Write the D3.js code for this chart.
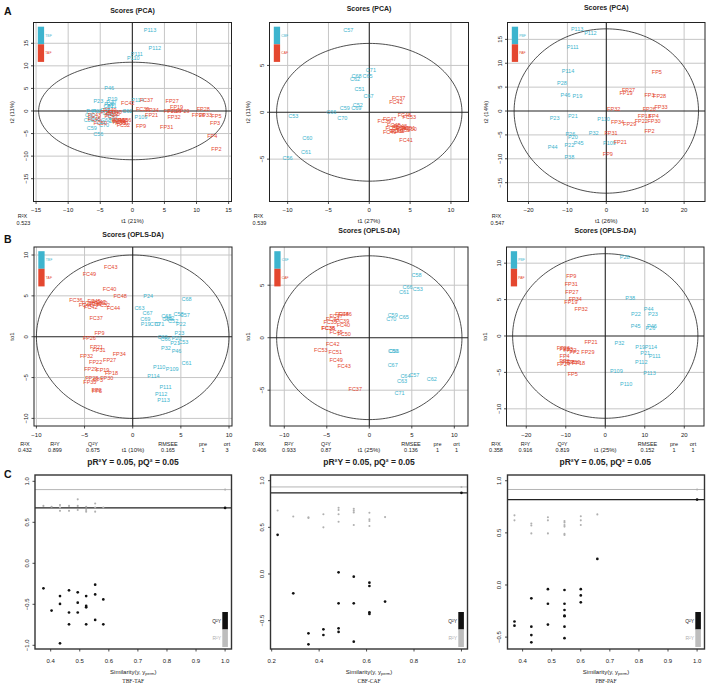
<!DOCTYPE html>
<html><head><meta charset="utf-8">
<script src="https://cdn.jsdelivr.net/npm/d3@7"></script>
<style>body{margin:0;background:#fff}svg{display:block}</style>
</head><body><svg id="c" width="708" height="686"></svg>
<script>
// ---------------- DATA ----------------
const groupNames = [["TBF","TAF"],["CBF","CAF"],["PBF","PAF"]];
const pairLabels = ["TBF-TAF","CBF-CAF","PBF-PAF"];

// PCA scores [label, t1, t2]
const pcaTBF = [["P113",2.75,18.0],["P112",3.5,14.0],["P111",0.7,12.6],["P110",0.15,11.8],["P46",-3.6,5.0],["P23",-5.3,2.3],["P19",-3.1,2.6],["P20",-3.3,2.0],["P28",-3.6,1.5],["P21",-3.2,1.0],["P114",0.8,2.4],["C62",-0.8,0.0],["P109",1.35,-1.3],["C59",-6.3,-3.8],["C56",-5.3,-5.0],["P44",-6.4,0.1],["P38",-5.5,0.0],["C60",-6.6,-0.9],["C66",-5.8,-1.85],["C53",-6.8,-2.0],["C70",-4.4,-3.1],["C61",-5.0,-2.4],["C57",-3.4,-0.6],["C68",-4.2,0.3],["C65",-3.9,-0.5],["C67",-3.0,-1.3],["C51",-3.7,1.2],["C63",-4.1,-2.0],["C69",-3.0,-2.3]];
const pcaTAF = [["FC42",-0.7,1.8],["FC37",2.2,2.4],["FC39",1.6,0.5],["FP34",3.1,0.2],["FP27",6.2,2.2],["FP19",6.9,0.8],["FP28",11.05,0.4],["FP22",5.9,0.0],["FP18",6.6,-0.1],["FP29",7.9,-0.1],["FP32",6.5,-1.3],["FP26",10.3,-0.9],["FP33",11.4,-0.8],["FP5",13.1,-1.1],["FP21",3.0,-1.0],["FP3",12.9,-2.6],["FP9",1.35,-3.25],["FP31",5.35,-3.5],["FP4",12.45,-5.6],["FP2",13.1,-8.4],["FC43",-5.9,-0.9],["FC45",-5.9,-1.8],["FC50",-5.0,-2.6],["FC49",-3.5,0.3],["FC35",-3.0,-0.7],["FC47",-3.3,-1.2],["FC40",-2.7,-0.3],["FC46",-2.2,-2.0],["FC48",-1.8,-1.9],["FC44",-2.0,-2.4],["FC36",-1.2,-2.0],["FC53",-2.1,-2.2],["FC51",-1.6,-2.7],["FC52",-1.4,-3.1],["FC41",-3.9,-0.3]];
const pcaCBF = [["C57",-2.57,8.8],["C71",0.2,4.5],["C68",-1.55,3.9],["C65",-0.2,3.9],["C62",-1.75,3.5],["C51",-1.2,2.45],["C67",-0.1,1.75],["C52",-1.4,0.75],["C59",-3.0,0.43],["C69",-1.6,0.43],["C66",-4.65,0.07],["C53",-9.3,-0.36],["C70",-3.3,-0.57],["C60",-7.6,-2.74],["C61",-7.75,-4.27],["C56",-10.0,-4.84]];
const pcaCAF = [["FC37",3.6,1.57],["FC42",3.27,1.14],["FC48",4.3,-0.28],["FC53",4.9,-0.46],["FC47",2.5,-0.71],["FC39",1.84,-0.89],["FC45",3.0,-1.4],["FC36",2.8,-1.65],["FC44",3.6,-1.6],["FC46",4.1,-1.7],["FC51",4.8,-1.65],["FC50",5.0,-1.8],["FC35",3.5,-1.95],["FC52",4.2,-1.85],["FC49",2.5,-2.1],["FC40",3.3,-2.05],["FC43",3.8,-1.5],["FC41",4.5,-2.95]];
const pcaPBF = [["P113",-7.5,17.2],["P112",-4.1,16.3],["P111",-8.65,13.3],["P114",-9.85,8.3],["P28",-11.4,5.8],["P46",-10.5,3.35],["P19",-7.45,3.1],["P23",-13.3,-1.4],["P21",-8.6,-1.0],["P110",-0.7,-1.7],["P26",-9.25,-4.9],["P20",-8.6,-5.5],["P32",-3.25,-4.5],["P22",-9.5,-7.1],["P45",-7.1,-6.6],["P44",-13.8,-7.6],["P38",-9.5,-9.6],["P109",0.8,-6.6]];
const pcaPAF = [["FP5",13.0,8.2],["FP27",5.7,4.4],["FP19",5.05,3.7],["FP3",11.1,3.35],["FP28",13.7,3.2],["FP32",1.9,0.35],["FP26",11.05,0.35],["FP33",14.05,0.9],["FP18",9.8,-1.05],["FP4",12.2,-1.0],["FP34",2.9,-2.3],["FP29",6.0,-2.7],["FP22",9.0,-2.1],["FP30",12.25,-2.1],["FP31",1.2,-4.5],["FP2",11.1,-4.1],["FP21",3.6,-6.5],["FP9",0.4,-8.9]];

// OPLS-DA scores [label, t1, to1]
const oplsTBF = [["P24",1.6,5.0],["C68",5.6,4.6],["C63",0.7,3.55],["C67",1.55,2.95],["C65",3.5,2.55],["C62",3.8,2.35],["C59",3.6,2.15],["C58",4.75,2.8],["C57",5.4,2.65],["C69",1.3,2.15],["P19",1.35,1.6],["C70",2.3,1.6],["C71",2.75,1.55],["C52",4.2,1.9],["P22",5.0,1.6],["P23",4.85,0.5],["P20",4.55,-0.1],["C53",5.25,-0.6],["C66",3.4,-0.3],["C60",3.1,-0.05],["P21",4.4,-0.8],["P32",3.45,-1.35],["P46",4.55,-1.75],["C61",5.6,-3.2],["P110",2.75,-3.75],["P109",4.1,-3.95],["P114",2.15,-4.8],["P111",3.4,-6.2],["P112",2.95,-7.0],["P113",3.2,-7.7]];
const oplsTAF = [["FC43",-2.28,8.5],["FC49",-4.5,7.7],["FC40",-2.4,5.85],["FC48",-1.3,4.95],["FC36",-5.9,4.45],["FC45",-4.0,4.35],["FC47",-3.5,4.25],["FC35",-4.6,4.1],["FC46",-3.9,3.95],["FC50",-3.3,4.15],["FC41",-4.9,3.85],["FC52",-3.05,3.9],["FC42",-4.35,3.6],["FC44",-2.0,3.5],["FC37",-3.8,2.25],["FP9",-3.45,0.5],["FP26",-4.5,-0.1],["FP21",-3.75,-1.2],["FP31",-3.5,-1.6],["FP34",-1.4,-2.1],["FP32",-4.8,-2.4],["FP27",-2.4,-2.9],["FP22",-3.85,-3.1],["FP29",-4.35,-3.9],["FP19",-3.1,-4.1],["FP18",-2.2,-4.5],["FP30",-2.7,-5.1],["FP28",-4.25,-5.0],["FP3",-3.6,-5.3],["FP33",-4.45,-5.6],["FP2",-3.75,-6.5],["FP5",-3.7,-6.6]];
const oplsCBF = [["C58",5.55,6.0],["C66",4.5,4.85],["C53",5.7,4.6],["C61",4.1,4.4],["C59",2.75,2.2],["C70",2.6,1.75],["C65",4.05,2.0],["C60",2.8,-1.25],["C56",2.9,-1.25],["C67",2.75,-2.6],["C64",4.25,-3.65],["C57",5.3,-3.55],["C63",3.85,-4.1],["C62",7.35,-3.95],["C71",3.55,-5.3]];
const oplsCAF = [["FC48",-3.2,2.3],["FC46",-2.85,2.25],["FC47",-3.9,2.05],["FC44",-4.3,1.8],["FC35",-4.6,1.5],["FC39",-3.15,1.6],["FC40",-3.05,1.2],["FC36",-4.8,0.95],["FC38",-4.85,0.9],["FC45",-3.9,0.5],["FC50",-2.95,0.4],["FC42",-4.3,-0.6],["FC53",-5.7,-1.2],["FC51",-4.0,-1.35],["FC49",-3.9,-2.1],["FC43",-2.95,-2.65],["FC37",-1.65,-4.9]];
const oplsPBF = [["P28",4.9,10.9],["P38",6.3,5.25],["P44",11.0,3.7],["P22",7.75,3.0],["P23",12.05,3.0],["P45",7.7,1.4],["P46",11.8,1.35],["P26",11.4,1.05],["P32",3.6,-0.9],["P19",8.85,-1.45],["P114",11.55,-1.45],["P21",10.1,-2.4],["P111",12.5,-2.75],["P112",9.1,-3.6],["P109",2.8,-4.85],["P113",11.2,-5.15],["P110",5.3,-6.6]];
const oplsPAF = [["FP9",-8.6,8.25],["FP31",-8.6,7.1],["FP27",-8.45,6.1],["FP34",-7.6,5.1],["FP19",-8.7,4.7],["FP32",-6.1,3.7],["FP21",-3.6,-0.8],["FP26",-10.6,-1.7],["FP33",-9.9,-1.75],["FP22",-8.9,-1.95],["FP2",-7.75,-2.15],["FP29",-4.4,-2.2],["FP4",-10.3,-2.7],["FP3",-10.3,-3.5],["FP28",-9.4,-3.55],["FP30",-8.0,-3.6],["FP18",-6.75,-3.75],["FP24",-10.55,-3.8],["FP5",-8.25,-5.2]];

// Hotelling ellipse half-axes [t1, t2/to1]
const pcaEllipse = [[14.6,10.8],[11.35,7.35],[23.7,17.2]];
const oplsEllipse = [[10.0,10.0],[10.9,7.8],[23.45,11.3]];

// axis ticks
const pcaXTicks = [[-15,-10,-5,0,5,10,15],[-10,-5,0,5,10],[-20,-10,0,10,20]];
const pcaYTicks = [[-15,-10,-5,0,5,10,15],[-5,0,5],[-15,-10,-5,0,5,10,15]];
const oplsXTicks = [[-10,-5,0,5,10],[-10,-5,0,5,10],[-20,-10,0,10,20]];
const oplsYTicks = [[-10,-5,0,5,10],[-5,0,5],[-10,-5,0,5,10]];
const permXTicks = [[0.4,0.5,0.6,0.7,0.8,0.9,1.0],[0.2,0.4,0.6,0.8,1.0],[0.4,0.5,0.6,0.7,0.8,0.9,1.0]];
const permYTicks = [[-1,-0.5,0,0.5,1],[-0.5,0,0.5,1],[-0.5,0,0.5,1]];

// model statistics
const pcaT1 = ["t1 (21%)","t1 (27%)","t1 (26%)"];
const pcaT2 = ["t2 (11%)","t2 (11%)","t2 (14%)"];
const pcaR2X = ["0.523","0.539","0.547"];
const oplsT1 = ["t1 (10%)","t1 (25%)","t1 (25%)"];
const oplsR2X = ["0.432","0.406","0.358"];
const oplsR2Y = ["0.899","0.933","0.916"];
const oplsQ2Y = ["0.675","0.87","0.819"];
const oplsRMSEE = ["0.165","0.136","0.152"];
const oplsPre = ["1","1","1"];
const oplsOrt = ["3","1","1"];
const pValues = ["pR²Y = 0.05, pQ² = 0.05","pR²Y = 0.05, pQ² = 0.05","pR²Y = 0.05, pQ² = 0.05"];

// permutation tests [similarity, value]
const permTBF_R2 = [[0.375,0.70],[0.403,0.69],[0.432,0.71],[0.432,0.68],[0.432,0.64],[0.463,0.70],[0.463,0.64],[0.493,0.78],[0.493,0.70],[0.493,0.65],[0.522,0.69],[0.522,0.65],[0.522,0.63],[0.553,0.73],[0.553,0.68],[0.553,0.63],[0.581,0.68],[1.0,0.899]];
const permTBF_Q2 = [[0.375,-0.305],[0.403,-0.577],[0.432,-0.40],[0.432,-0.495],[0.432,-0.976],[0.463,-0.33],[0.463,-0.60],[0.463,-0.744],[0.493,-0.354],[0.493,-0.48],[0.493,-0.60],[0.522,-0.40],[0.522,-0.52],[0.522,-0.537],[0.522,-0.744],[0.553,-0.26],[0.553,-0.38],[0.553,-0.69],[0.581,-0.44],[0.581,-0.744],[1.0,0.675]];
const permCBF_R2 = [[0.225,0.68],[0.291,0.616],[0.355,0.607],[0.355,0.60],[0.418,0.64],[0.418,0.50],[0.482,0.71],[0.482,0.686],[0.482,0.64],[0.482,0.56],[0.546,0.70],[0.546,0.68],[0.546,0.66],[0.546,0.525],[0.612,0.657],[0.612,0.586],[0.612,0.568],[0.612,0.514],[0.678,0.61],[1.0,0.933]];
const permCBF_Q2 = [[0.225,0.42],[0.291,-0.207],[0.355,-0.636],[0.355,-0.754],[0.418,-0.593],[0.418,-0.654],[0.482,0.018],[0.482,-0.314],[0.482,-0.582],[0.482,-0.621],[0.546,-0.029],[0.546,-0.314],[0.546,-0.725],[0.612,-0.093],[0.612,-0.129],[0.612,-0.411],[0.612,-0.429],[0.678,-0.296],[1.0,0.87]];
const permPBF_R2 = [[0.372,0.668],[0.372,0.62],[0.43,0.59],[0.43,0.57],[0.43,0.495],[0.487,0.65],[0.487,0.62],[0.487,0.495],[0.544,0.613],[0.544,0.60],[0.544,0.575],[0.544,0.56],[0.544,0.49],[0.544,0.48],[0.60,0.66],[0.60,0.62],[0.60,0.575],[0.657,0.677],[1.0,0.916]];
const permPBF_Q2 = [[0.372,-0.35],[0.372,-0.39],[0.43,-0.128],[0.43,-0.40],[0.43,-0.48],[0.43,-0.55],[0.487,-0.04],[0.487,-0.18],[0.487,-0.38],[0.544,-0.048],[0.544,-0.18],[0.544,-0.24],[0.544,-0.294],[0.544,-0.30],[0.544,-0.40],[0.544,-0.51],[0.60,-0.04],[0.60,-0.10],[0.60,-0.166],[0.657,0.25],[1.0,0.819]];
const permR2Y = [0.899,0.933,0.916];
const permQ2Y = [0.675,0.87,0.819];

// ---------------- DRAWING ----------------
const svg = d3.select("#c");
const FONT = "'Liberation Sans', Arial, sans-serif";
const CY = "#3DB4CE", RD = "#E4472F";
const fInt = d3.format("d"), f1 = d3.format(".1f");

function txt(g, x, y, s, o = {}) {
  return g.append("text").attr("x", x).attr("y", y).text(s)
    .attr("font-family", o.family || FONT).attr("font-size", o.size || 6)
    .attr("font-weight", o.weight || "normal").attr("fill", o.fill || "#222")
    .attr("text-anchor", o.anchor || "middle").attr("dominant-baseline", o.base || "central")
    .attr("transform", o.rot ? `rotate(-90,${x},${y})` : null);
}

function scorePanel(L, d) {
  const x = d3.scaleLinear().domain(L.xd).range([L.x0, L.x1]);
  const y = d3.scaleLinear().domain(L.yd).range([L.y1, L.y0]);
  const g = svg.append("g");
  g.selectAll(null).data(d.xt.filter(v => v !== 0)).join("line")
    .attr("x1", v => x(v)).attr("x2", v => x(v)).attr("y1", L.y0).attr("y2", L.y1)
    .attr("stroke", "#c6c6c6").attr("stroke-width", 1);
  g.selectAll(null).data(d.yt.filter(v => v !== 0)).join("line")
    .attr("y1", v => y(v)).attr("y2", v => y(v)).attr("x1", L.x0).attr("x2", L.x1)
    .attr("stroke", "#c6c6c6").attr("stroke-width", 1);
  g.append("line").attr("x1", x(0)).attr("x2", x(0)).attr("y1", L.y0).attr("y2", L.y1).attr("stroke", "#222").attr("stroke-width", 1.1);
  g.append("line").attr("y1", y(0)).attr("y2", y(0)).attr("x1", L.x0).attr("x2", L.x1).attr("stroke", "#222").attr("stroke-width", 1.1);
  const pts = d3.range(0, 361, 2).map(a => [d.ell[0] * Math.cos(a * Math.PI / 180), d.ell[1] * Math.sin(a * Math.PI / 180)]);
  g.append("path").attr("d", d3.line().x(p => x(p[0])).y(p => y(p[1]))(pts))
    .attr("fill", "none").attr("stroke", "#222").attr("stroke-width", 0.8);
  [[d.a, CY], [d.b, RD]].forEach(([arr, col]) => {
    g.selectAll(null).data(arr).join("text")
      .attr("x", p => x(p[1])).attr("y", p => y(p[2])).text(p => p[0])
      .attr("font-family", FONT).attr("font-size", 5.5).attr("fill", col)
      .attr("text-anchor", "middle").attr("dominant-baseline", "central");
  });
  // legend
  const lx = L.x0 + 4.3, ly = L.y0 + 4.2, lh = 17.6;
  g.append("rect").attr("x", lx).attr("y", ly).attr("width", 6.3).attr("height", lh).attr("fill", CY);
  g.append("rect").attr("x", lx).attr("y", ly + lh).attr("width", 6.3).attr("height", lh).attr("fill", RD);
  txt(g, lx + 7.5, ly + lh / 2, d.names[0], {size: 3.4, fill: CY, anchor: "start"});
  txt(g, lx + 7.5, ly + lh * 1.5, d.names[1], {size: 3.4, fill: RD, anchor: "start"});
  g.append("rect").attr("x", L.x0).attr("y", L.y0).attr("width", L.x1 - L.x0).attr("height", L.y1 - L.y0)
    .attr("fill", "none").attr("stroke", "#222").attr("stroke-width", 1);
  // ticks
  d.xt.forEach(v => {
    g.append("line").attr("x1", x(v)).attr("x2", x(v)).attr("y1", L.y1).attr("y2", L.y1 + 2.5).attr("stroke", "#222").attr("stroke-width", 0.8);
    txt(g, x(v), L.y1 + 8.5, fInt(v), {size: 6});
  });
  d.yt.forEach(v => {
    g.append("line").attr("x1", L.x0 - 2.5).attr("x2", L.x0).attr("y1", y(v)).attr("y2", y(v)).attr("stroke", "#222").attr("stroke-width", 0.8);
    txt(g, L.x0 - 7.5, y(v), fInt(v), {size: 6, rot: true});
  });
  txt(g, (L.x0 + L.x1) / 2, L.titleY, d.title, {size: 7, weight: "bold"});
  txt(g, L.x0 - 22, (L.y0 + L.y1) / 2, d.ylab, {size: 6, rot: true});
  return {g, x, y};
}

// PCA row
const rowA = [
  {x0: 33.5, x1: 231.5, y0: 22.5, y1: 201.5, xd: [-15.4, 15.45], yd: [-20.05, 19.6], titleY: 10},
  {x0: 269.5, x1: 468.5, y0: 22.5, y1: 201.5, xd: [-12.22, 12.15], yd: [-9.52, 9.58], titleY: 8.5},
  {x0: 507.5, x1: 705, y0: 22.5, y1: 201.5, xd: [-25.4, 25.37], yd: [-18.94, 18.53], titleY: 7.5}
];
const pcaA = [pcaTBF, pcaCBF, pcaPBF], pcaB = [pcaTAF, pcaCAF, pcaPAF];
rowA.forEach((L, i) => {
  const {g} = scorePanel(L, {xt: pcaXTicks[i], yt: pcaYTicks[i], a: pcaA[i], b: pcaB[i], ell: pcaEllipse[i],
    names: groupNames[i], title: "Scores (PCA)", ylab: pcaT2[i]});
  txt(g, L.x0 - 11, L.y1 + 14.5, "R²X", {size: 5.5});
  txt(g, L.x0 - 10, L.y1 + 21.5, pcaR2X[i], {size: 5.5});
  txt(g, (L.x0 + L.x1) / 2, L.y1 + 19.5, pcaT1[i], {size: 6});
});

// OPLS-DA row
const rowB = [
  {x0: 34, x1: 232, y0: 247, y1: 426, xd: [-10.25, 10.31], yd: [-10.93, 10.98], titleY: 234.5, sx: [-9, 21, 59, 134, 169, 193]},
  {x0: 270, x1: 468, y0: 247, y1: 426, xd: [-11.68, 11.61], yd: [-8.41, 8.64], titleY: 230.5, sx: [-10.5, 19, 56, 141, 167.5, 186.5]},
  {x0: 506.5, x1: 704, y0: 247, y1: 426, xd: [-25.0, 24.99], yd: [-12.36, 12.22], titleY: 230.5, sx: [-10.5, 19, 56, 141, 167.5, 186.5]}
];
const oplsA = [oplsTBF, oplsCBF, oplsPBF], oplsB = [oplsTAF, oplsCAF, oplsPAF];
rowB.forEach((L, i) => {
  const {g} = scorePanel(L, {xt: oplsXTicks[i], yt: oplsYTicks[i], a: oplsA[i], b: oplsB[i], ell: oplsEllipse[i],
    names: groupNames[i], title: "Scores (OPLS-DA)", ylab: "to1"});
  const heads = ["R²X", "R²Y", "Q²Y", "RMSEE", "pre", "ort"];
  const vals = [oplsR2X[i], oplsR2Y[i], oplsQ2Y[i], oplsRMSEE[i], oplsPre[i], oplsOrt[i]];
  heads.forEach((h, k) => {
    txt(g, L.x0 + L.sx[k], 443.5, h, {size: 5.5});
    txt(g, L.x0 + L.sx[k], 449.5, vals[k], {size: 5.5});
  });
  txt(g, (L.x0 + L.x1) / 2, 449.5, oplsT1[i], {size: 6});
  txt(g, (L.x0 + L.x1) / 2, 462, pValues[i], {size: 8.5, weight: "bold"});
});

// permutation row
const rowC = [
  {x0: 35, x1: 231.5, y0: 475, y1: 649, xd: [0.346, 1.022], yd: [-1.045, 1.077]},
  {x0: 270.5, x1: 467.5, y0: 475, y1: 649, xd: [0.195, 1.0255], yd: [-0.804, 1.061]},
  {x0: 507.5, x1: 704.5, y0: 475, y1: 649, xd: [0.348, 1.0255], yd: [-0.614, 1.055]}
];
const permR2 = [permTBF_R2, permCBF_R2, permPBF_R2], permQ2 = [permTBF_Q2, permCBF_Q2, permPBF_Q2];
rowC.forEach((L, i) => {
  const x = d3.scaleLinear().domain(L.xd).range([L.x0, L.x1]);
  const y = d3.scaleLinear().domain(L.yd).range([L.y1, L.y0]);
  const g = svg.append("g");
  g.append("line").attr("x1", L.x0).attr("x2", L.x1).attr("y1", y(permR2Y[i])).attr("y2", y(permR2Y[i])).attr("stroke", "#b5b5b5").attr("stroke-width", 1);
  g.append("line").attr("x1", L.x0).attr("x2", L.x1).attr("y1", y(permQ2Y[i])).attr("y2", y(permQ2Y[i])).attr("stroke", "#222").attr("stroke-width", 1.3);
  g.selectAll(null).data(permR2[i]).join("circle").attr("cx", p => x(p[0])).attr("cy", p => y(p[1])).attr("r", 1.05).attr("fill", "#b0b0b0");
  g.selectAll(null).data(permQ2[i]).join("circle").attr("cx", p => x(p[0])).attr("cy", p => y(p[1])).attr("r", 1.35).attr("fill", "#111");
  g.append("rect").attr("x", L.x0).attr("y", L.y0).attr("width", L.x1 - L.x0).attr("height", L.y1 - L.y0)
    .attr("fill", "none").attr("stroke", "#333").attr("stroke-width", 1.4);
  permXTicks[i].forEach(v => {
    g.append("line").attr("x1", x(v)).attr("x2", x(v)).attr("y1", L.y1).attr("y2", L.y1 + 2.5).attr("stroke", "#222").attr("stroke-width", 0.8);
    txt(g, x(v), L.y1 + 11.5, f1(v), {size: 6});
  });
  permYTicks[i].forEach(v => {
    g.append("line").attr("x1", L.x0 - 2.5).attr("x2", L.x0).attr("y1", y(v)).attr("y2", y(v)).attr("stroke", "#222").attr("stroke-width", 0.8);
    txt(g, L.x0 - 8, y(v), f1(v), {size: 6, rot: true});
  });
  // legend
  const lx = L.x1 - 9.2, ly = 612, lh = 17.5;
  g.append("rect").attr("x", lx).attr("y", ly).attr("width", 5.6).attr("height", lh).attr("fill", "#111");
  g.append("rect").attr("x", lx).attr("y", ly + lh).attr("width", 5.6).attr("height", lh).attr("fill", "#bdbdbd");
  txt(g, lx - 1.2, ly + lh / 2, "Q²Y", {size: 5, anchor: "end", fill: "#222"});
  txt(g, lx - 1.2, ly + lh * 1.5, "R²Y", {size: 5, anchor: "end", fill: "#b0b0b0"});
  const t = g.append("text").attr("x", (L.x0 + L.x1) / 2).attr("y", 672).attr("font-family", FONT).attr("font-size", 6)
    .attr("text-anchor", "middle").attr("dominant-baseline", "central").attr("fill", "#222");
  t.append("tspan").text("Similarity(y, y");
  t.append("tspan").attr("font-size", 4).attr("dy", 1.3).text("perm");
  t.append("tspan").attr("dy", -1.3).text(")");
  txt(g, (L.x0 + L.x1) / 2, 680.5, pairLabels[i], {size: 5.5, family: "'Liberation Serif', 'Times New Roman', serif"});
});

// panel letters
[["A", 15], ["B", 243], ["C", 478]].forEach(([s, yy]) =>
  txt(svg, 4, yy, s, {size: 10.5, weight: "bold", anchor: "start", base: "alphabetic", fill: "#111"}));
</script></body></html>
